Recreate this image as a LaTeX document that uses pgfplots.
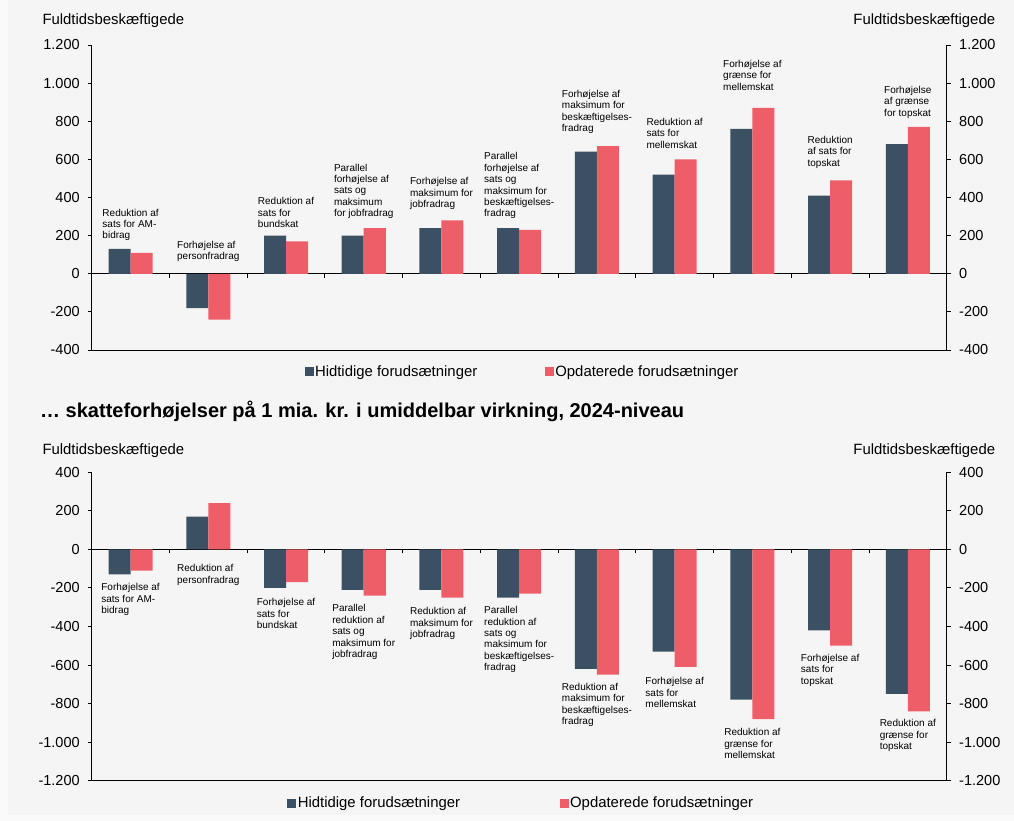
\documentclass[border=0pt]{standalone}
\usepackage{fontspec}
\setmainfont{Liberation Sans}
\usepackage{pgfplots}
\pgfplotsset{compat=1.18}
\usepackage{pgfplotstable}

\definecolor{cdark}{HTML}{3B5163}
\definecolor{cred}{HTML}{EE5E69}
\definecolor{bgpanel}{HTML}{F5F5F5}
\definecolor{bgpage}{HTML}{FAFAFA}

\pgfplotstableread{
x a b
0 130 110
1 -180 -240
2 200 170
3 200 240
4 240 280
5 240 230
6 640 670
7 520 600
8 760 870
9 410 490
10 680 770
}\topdata

\pgfplotstableread{
x a b
0 -130 -110
1 170 240
2 -200 -170
3 -210 -240
4 -210 -250
5 -250 -230
6 -620 -650
7 -530 -610
8 -780 -880
9 -420 -500
10 -750 -840
}\botdata

\newcommand{\lbl}[3]{\node[anchor=base, inner sep=0pt, font=\fontsize{10}{11.4}\selectfont] at (axis cs:#1,#2) {\begin{tabular}[t]{@{}l@{}}#3\end{tabular}};}

\pgfplotsset{
  base/.style={scale only axis, width=855pt, xmin=-0.5, xmax=10.5,
    tick align=outside, major tick length=4pt,
    axis line style={black, line width=0.8pt},
    tick style={black, line width=0.8pt},
    ticklabel style={font=\fontsize{14.5}{17}\selectfont},
    /pgf/number format/use comma,
    /pgf/number format/1000 sep={.},
    /pgf/number format/assume math mode=true,
    clip=false},
  mainax/.style={base, axis y line*=left, axis x line*=middle,
    yticklabel style={xshift=-4.5pt},
    xtick={0.5,1.5,...,9.5}, xticklabels={},
    ybar=0pt, bar width=22pt,
    legend columns=2,
    legend image code/.code={\fill[##1] (0pt,-4.5pt) rectangle (9pt,4.5pt);},
    legend style={draw=none, fill=none, font=\fontsize{14.9}{17}\selectfont,
      inner sep=0pt, nodes={inner xsep=1.5pt, inner ysep=0pt}}},
  rightax/.style={base, axis y line*=right, axis x line*=bottom, xtick=\empty,
    yticklabel style={xshift=5pt}}
}

\begin{document}
\begin{tikzpicture}
\useasboundingbox (0,0) rectangle (1014pt,-821pt);
\fill[bgpage] (0,0) rectangle (1014pt,-821pt);
\fill[bgpanel] (8pt,0) rectangle (1014pt,-815pt);

% ---------- top chart ----------
\begin{axis}[mainax, at={(91.7pt,-45pt)}, anchor=north west, height=305pt,
  ymin=-400, ymax=1200, ytick={-400,-200,...,1200},
  legend style={at={(0.5,0)}, anchor=center, yshift=-21.6pt, xshift=3pt,
    /tikz/every even column/.append style={column sep=66pt}}]
\addplot[fill=cdark, draw=none] table[x=x, y=a] {\topdata};
\addplot[fill=cred, draw=none] table[x=x, y=b] {\topdata};
\addlegendentry{Hidtidige forudsætninger}
\addlegendentry{Opdaterede forudsætninger}
\lbl{0}{302}{Reduktion af\\sats for AM-\\bidrag}
\lbl{1}{135}{Forhøjelse af\\personfradrag}
\lbl{2}{362}{Reduktion af\\sats for\\bundskat}
\lbl{3}{539}{Parallel\\forhøjelse af\\sats og\\maksimum\\for jobfradrag}
\lbl{4}{466}{Forhøjelse af\\maksimum for\\jobfradrag}
\lbl{5}{597}{Parallel\\forhøjelse af\\sats og\\maksimum for\\beskæftigelses-\\fradrag}
\lbl{6}{925}{Forhøjelse af\\maksimum for\\beskæftigelses-\\fradrag}
\lbl{7}{778}{Reduktion af\\sats for\\mellemskat}
\lbl{8}{1083}{Forhøjelse af\\grænse for\\mellemskat}
\lbl{9}{683}{Reduktion\\af sats for\\topskat}
\lbl{10}{946}{Forhøjelse\\af grænse\\for topskat}
\end{axis}
\begin{axis}[rightax, at={(91.7pt,-45pt)}, anchor=north west, height=305pt,
  ymin=-400, ymax=1200, ytick={-400,-200,...,1200}]
\end{axis}

% ---------- bottom chart ----------
\begin{axis}[mainax, at={(91.7pt,-472.2pt)}, anchor=north west, height=308.5pt,
  ymin=-1200, ymax=400, ytick={-1200,-1000,...,400},
  legend style={at={(0.5,0)}, anchor=center, yshift=-22.3pt, xshift=1.8pt,
    /tikz/every even column/.append style={column sep=98pt}}]
\addplot[fill=cdark, draw=none] table[x=x, y=a] {\botdata};
\addplot[fill=cred, draw=none] table[x=x, y=b] {\botdata};
\addlegendentry{Hidtidige forudsætninger}
\addlegendentry{Opdaterede forudsætninger}
\lbl{0}{-215}{Forhøjelse af\\sats for AM-\\bidrag}
\lbl{1}{-116}{Reduktion af\\personfradrag}
\lbl{2}{-293}{Forhøjelse af\\sats for\\bundskat}
\lbl{3}{-324}{Parallel\\reduktion af\\sats og\\maksimum for\\jobfradrag}
\lbl{4}{-339}{Reduktion af\\maksimum for\\jobfradrag}
\lbl{5}{-334}{Parallel\\reduktion af\\sats og\\maksimum for\\beskæftigelses-\\fradrag}
\lbl{6}{-731}{Reduktion af\\maksimum for\\beskæftigelses-\\fradrag}
\lbl{7}{-702}{Forhøjelse af\\sats for\\mellemskat}
\lbl{8}{-967}{Reduktion af\\grænse for\\mellemskat}
\lbl{9}{-581}{Forhøjelse af\\sats for\\topskat}
\lbl{10}{-920}{Reduktion af\\grænse for\\topskat}
\end{axis}
\begin{axis}[rightax, at={(91.7pt,-472.2pt)}, anchor=north west, height=308.5pt,
  ymin=-1200, ymax=400, ytick={-1200,-1000,...,400}]
\end{axis}

% ---------- texts ----------
\node[anchor=base west, inner sep=0pt, font=\fontsize{14.9}{17}\selectfont] at (42.3pt,-25pt) {Fuldtidsbeskæftigede};
\node[anchor=base east, inner sep=0pt, font=\fontsize{14.9}{17}\selectfont] at (995.3pt,-25pt) {Fuldtidsbeskæftigede};
\node[anchor=base west, inner sep=0pt, font=\bfseries\fontsize{20}{24}\selectfont] at (40pt,-417pt) {… skatteforhøjelser på 1 mia. kr. i umiddelbar virkning, 2024-niveau};
\node[anchor=base west, inner sep=0pt, font=\fontsize{14.9}{17}\selectfont] at (42.3pt,-454pt) {Fuldtidsbeskæftigede};
\node[anchor=base east, inner sep=0pt, font=\fontsize{14.9}{17}\selectfont] at (995.3pt,-454pt) {Fuldtidsbeskæftigede};
\end{tikzpicture}
\end{document}
